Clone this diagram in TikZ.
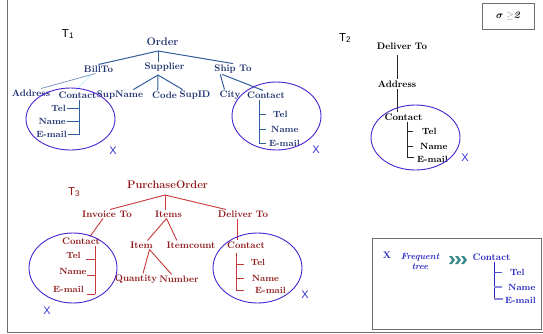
\documentclass[tikz,border=0pt]{standalone}
\usepackage{fontspec}
\setsansfont{Liberation Sans}
\usepackage{bm}
\usetikzlibrary{calc}
\definecolor{bluetxt}{HTML}{1B2F6E}
\definecolor{blueln}{HTML}{2F5DA0}
\definecolor{redtxt}{HTML}{8E1818}
\definecolor{redln}{HTML}{C8373A}
\definecolor{ellc}{HTML}{4B22D0}
\definecolor{xcol}{HTML}{3535D5}
\definecolor{ftxt}{HTML}{2525C0}
\definecolor{lav}{HTML}{8A8AD8}
\definecolor{teal1}{HTML}{3A8A8A}
\definecolor{framec}{HTML}{6E6E6E}
\tikzset{
  lab/.style={inner sep=1pt, font=\fontsize{9.5}{11}\selectfont\bfseries},
  rootlab/.style={lab, font=\fontsize{11}{13}\selectfont\bfseries},
  leaf/.style={lab, font=\fontsize{9}{10}\selectfont\bfseries},
  tlab/.style={inner sep=0pt, font=\fontsize{11.5}{13}\selectfont\sffamily},
  xmark/.style={inner sep=0pt, text=xcol, font=\fontsize{11}{13}\selectfont\sffamily},
  ell/.style={draw=ellc, line width=0.9pt},
  bl/.style={draw=blueln, line width=1pt},
  rl/.style={draw=redln, line width=0.9pt},
  kl/.style={draw=black!85, line width=0.9pt},
}
\begin{document}
\begin{tikzpicture}[x=1pt,y=-1pt]
\useasboundingbox (0,0) rectangle (543,333);
% frame
\draw[framec, line width=1pt] (7,0) -- (7,332) -- (543,332);

% ---------------- T1 ----------------
\node[tlab] (t1) at (68,34) {T\textsubscript{1}};
\begin{scope}[every node/.append style={text=bluetxt}]
\node[rootlab] (order) at (162.5,42) {Order};
\node[lab] (billto) at (98.5,69) {BillTo};
\node[lab] (supplier) at (164.5,67) {Supplier};
\node[lab] (shipto) at (233,69) {Ship To};
\node[lab] (address) at (31,93) {Address};
\node[lab] (contactA) at (77.5,95) {Contact};
\node[lab] (supname) at (120,95) {SupName};
\node[lab] (code) at (164.5,95) {Code};
\node[lab] (supid) at (195,95) {SupID};
\node[lab] (city) at (230,95) {City};
\node[lab] (contactB) at (266,95) {Contact};
\node[leaf, anchor=east] (telA) at (67,108) {Tel};
\node[leaf, anchor=east] (nameA) at (67,121) {Name};
\node[leaf, anchor=east] (emailA) at (68,134) {E-mail};
\node[leaf, anchor=west] (telB) at (272,114) {Tel};
\node[leaf, anchor=west] (nameB) at (270,129) {Name};
\node[leaf, anchor=west] (emailB) at (268,143) {E-mail};
\end{scope}
\coordinate (oj) at (158,51);
\coordinate (sj) at (158,75);
\draw[bl] (oj) -- (billto.north);
\draw[bl] (oj) -- (oj |- supplier.north);
\draw[bl] (oj) -- (shipto.north);
\draw[bl] (sj) -- ($(supname.north)!0.55!(supname.north east)$);
\draw[bl] (sj) -- ($(code.north west)!0.5!(code.north)$);
\draw[bl] (sj) -- ($(supid.north west)!0.25!(supid.north)$);
\draw[bl] ($(shipto.south west)+(7,0)$) -- ($(city.north west)+(6,0)$);
\draw[bl] ($(shipto.south west)+(9,0)$) -- ($(contactB.north)+(-3,0)$);
\draw[blueln!70, line width=0.7pt] ($(billto.south)+(-3,0)$) -- ($(address.north)!0.5!(address.north east)$);
\draw[cyan!25, line width=0.7pt] ($(billto.south)+(-8,2)$) -- ($(contactA.north)+(-2,0)$);
% contact A subtree
\coordinate (vA) at (79,135);
\draw[bl] (vA |- contactA.south) -- (vA);
\draw[bl] (telA.east) -- (telA.east -| vA);
\draw[bl] (nameA.east) -- (nameA.east -| vA);
\draw[bl] (emailA.east) -- (emailA.east -| vA);
% contact B subtree
\coordinate (vB) at (259,143);
\draw[bl] (vB |- contactB.south) -- (vB);
\draw[bl] (vB |- telB.west) -- ++(7,0);
\draw[bl] (vB |- nameB.west) -- ++(7,0);
\draw[bl] (vB) -- ++(7,0);
\draw[ell] (70.5,119) ellipse [x radius=44.5pt, y radius=31pt];
\draw[ell] (276.5,116) ellipse [x radius=44.5pt, y radius=34pt];
\node[xmark] (xA) at (113,151) {X};
\node[xmark] (xB) at (316,150) {X};

% ---------------- T2 ----------------
\node[tlab] (t2) at (345,38) {T\textsubscript{2}};
\node[lab] (deliver) at (402,46) {Deliver To};
\node[lab] (address2) at (397,84) {Address};
\node[lab] (contact2) at (403.5,117) {Contact};
\node[leaf, anchor=west] (tel2) at (421,131) {Tel};
\node[leaf, anchor=west] (name2) at (419,146) {Name};
\node[leaf, anchor=west] (email2) at (416,159) {E-mail};
\draw[kl] (address2.north |- deliver.south) ++(0,4) -- (address2.north);
\draw[kl] (address2.south) -- (address2.south |- contact2.north);
\coordinate (vC) at (407,157);
\draw[kl] (vC |- contact2.south) -- (vC);
\draw[kl] (vC |- tel2.west) -- ++(6,0);
\draw[kl] (vC |- name2.west) -- ++(6,0);
\draw[kl] (vC) -- ++(7,0);
\draw[ell] (415.5,137.5) ellipse [x radius=44.5pt, y radius=32.5pt];
\node[xmark] (xC) at (465,158) {X};

% sigma box
\node[draw=framec, line width=0.8pt, minimum width=52, minimum height=26, inner sep=0pt] (sig) at (508,16)
  {$\bm{\sigma}\;{\color{gray}\geq}$\textbf{\textit{2}}};

% ---------------- T3 ----------------
\node[tlab, text=redtxt] (t3) at (74,192) {T\textsubscript{3}};
\begin{scope}[every node/.append style={text=redtxt}]
\node[rootlab] (po) at (167.5,185) {PurchaseOrder};
\node[lab] (invoice) at (107,214) {Invoice To};
\node[lab] (items) at (168.5,214) {Items};
\node[lab] (deliver3) at (243,214) {Deliver To};
\node[lab] (contact3a) at (81,241) {Contact};
\node[lab] (item) at (141.5,245) {Item};
\node[lab] (itemcount) at (191,245) {Itemcount};
\node[lab] (quantity) at (136,279) {Quantity};
\node[lab] (number) at (179,279) {Number};
\node[lab] (contact3b) at (246,245) {Contact};
\node[leaf] (tel3a) at (73.5,255) {Tel};
\node[leaf] (name3a) at (73,271) {Name};
\node[leaf] (email3a) at (68.5,289) {E-mail};
\node[leaf] (tel3b) at (258,262) {Tel};
\node[leaf] (name3b) at (265.5,278) {Name};
\node[leaf] (email3b) at (270.5,290) {E-mail};
\end{scope}
\coordinate (pj) at (165,195);
\draw[rl] (pj) -- ($(invoice.north)+(3,0)$);
\draw[rl] (pj) -- (pj |- items.north);
\draw[rl] (pj) -- ($(deliver3.north west)!0.35!(deliver3.north)$);
\draw[rl] ($(invoice.south)+(-4,0)$) -- ($(contact3a.north)+(9,0)$);
\draw[rl] ($(items.south)+(-2,0)$) -- ($(item.north)+(6,0)$);
\draw[rl] ($(items.south)+(-2,0)$) -- ($(itemcount.north west)!0.45!(itemcount.north)$);
\draw[rl] ($(item.south)+(8,0)$) -- ($(quantity.north)+(7,0)$);
\draw[rl] ($(item.south)+(8,0)$) -- ($(number.north west)!0.65!(number.north)$);
\draw[rl] ($(deliver3.south)+(-6,0)$) -- ($(contact3b.north)+(-9,0)$);
\coordinate (vD) at (95,294);
\draw[rl] (vD |- contact3a.south) -- (vD);
\draw[rl] (vD |- tel3a.south) -- ++(-9,0);
\draw[rl] (vD |- name3a.south) -- ++(-8,0);
\draw[rl] (vD) -- ++(-8,0);
\coordinate (vE) at (236,290);
\draw[rl] ($(vE |- contact3b.south)+(0,3)$) -- (vE);
\draw[rl] (vE |- tel3b) ++(0,2) -- ++(8,0);
\draw[rl] (vE |- name3b) -- ++(8,0);
\draw[rl] (vE) -- ++(8,0);
\draw[ell] (73,268) ellipse [x radius=44pt, y radius=35pt];
\draw[ell] (257.5,268) ellipse [x radius=44.5pt, y radius=35pt];
\node[xmark] (xD) at (47,311) {X};
\node[xmark] (xE) at (305,295) {X};

% ---------------- Frequent tree box ----------------
\node[draw=framec, line width=0.8pt, minimum width=169, minimum height=91, inner sep=0pt] (fbox) at (456.5,283.5) {};
\begin{scope}[every node/.append style={text=ftxt}]
\node[lab] (xf) at (387,255) {X};
\node[inner sep=0pt, align=center, font=\fontsize{9}{10}\selectfont\bfseries\itshape] (freq) at (420,261) {Frequent\\tree};
\node[lab] (contactF) at (491.5,257) {Contact};
\node[leaf, anchor=west] (telF) at (509,272) {Tel};
\node[leaf, anchor=west] (nameF) at (507,287) {Name};
\node[leaf, anchor=west] (emailF) at (504,300) {E-mail};
\end{scope}
\foreach \i in {0,1,2} {
  \fill[teal1] (449+6*\i,256) -- (452+6*\i,256) -- (455+6*\i,260) -- (452+6*\i,264) -- (449+6*\i,264) -- (452+6*\i,260) -- cycle;
}
\coordinate (vF) at (494,299);
\draw[draw=ftxt, line width=1pt] (vF |- contactF.south) -- (vF);
\draw[draw=ftxt!80, line width=1pt] (vF |- telF.west) -- ++(8,0);
\draw[draw=lav, line width=2pt] (vF |- nameF.west) -- ++(8,0);
\draw[draw=lav, line width=1.5pt] (vF) -- ++(9,0);
\end{tikzpicture}
\end{document}
